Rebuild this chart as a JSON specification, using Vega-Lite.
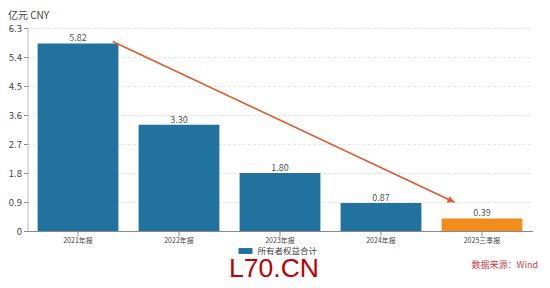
{
  "$schema": "https://vega.github.io/schema/vega-lite/v6.json",
  "autosize": {"type": "none"},
  "width": 505,
  "height": 203,
  "padding": {"left": 27.5, "top": 28, "right": 17.5, "bottom": 57},
  "background": "#ffffff",
  "config": {
    "font": "Noto Sans CJK SC",
    "view": {"stroke": null},
    "axisX": {"labelFontSize": 7, "labelColor": "#444", "domainColor": "#888", "tickColor": "#888", "tickSize": 5, "labelPadding": 0, "labelAngle": 0, "title": null, "grid": false}
  },
  "datasets": {
    "bars": [
      {"period": "2021年报", "value": 5.82, "name": "所有者权益合计"},
      {"period": "2022年报", "value": 3.30, "name": "所有者权益合计"},
      {"period": "2023年报", "value": 1.80, "name": "所有者权益合计"},
      {"period": "2024年报", "value": 0.87, "name": "所有者权益合计"},
      {"period": "2025三季报", "value": 0.39, "name": "所有者权益合计"}
    ],
    "trend": [
      {"period": "2021年报", "value": 5.88, "period_end": "2025三季报", "value_end": 0.89}
    ],
    "arrowhead": [
      {"period": "2025三季报", "value": 0.89}
    ],
    "notes": [
      {"period": "2023年报", "value": -1.43, "label": "L70.CN"},
      {"period": "2025三季报", "value": -1.055, "label": "数据来源：Wind"}
    ]
  },
  "encoding": {
    "x": {
      "field": "period", "type": "nominal", "sort": ["2021年报", "2022年报", "2023年报", "2024年报", "2025三季报"],
      "scale": {"domain": ["2021年报", "2022年报", "2023年报", "2024年报", "2025三季报"], "paddingInner": 0.2, "paddingOuter": 0.1}
    },
    "y": {
      "field": "value", "type": "quantitative",
      "scale": {"domain": [0, 6.3], "nice": false, "zero": false},
      "axis": {
        "values": [0, 0.9, 1.8, 2.7, 3.6, 4.5, 5.4, 6.3],
        "format": ".1~f", "labelOverlap": false,
        "title": "亿元  CNY", "titleAngle": 0, "titleAlign": "left", "titleBaseline": "middle",
        "titleX": -20, "titleY": -13, "titleFontSize": 10, "titleFontWeight": "normal", "titleColor": "#444",
        "labelFontSize": 9.5, "labelColor": "#444", "domainColor": "#bbb", "tickColor": "#888", "tickSize": 4, "labelPadding": 2,
        "grid": true, "gridColor": "#e6e6e6", "gridDash": [3, 2]
      }
    }
  },
  "layer": [
    {
      "data": {"name": "bars"},
      "mark": {"type": "bar"},
      "encoding": {
        "color": {
          "condition": {"test": "datum.period === '2025三季报'", "value": "#F28C1C"},
          "field": "name", "type": "nominal",
          "scale": {"domain": ["所有者权益合计"], "range": ["#21729F"]},
          "legend": {
            "title": null, "orient": "none", "legendX": 211, "legendY": 216,
            "symbolType": "M-1,-0.42H1V0.42H-1Z", "symbolSize": 196, "symbolStrokeWidth": 0,
            "labelFontSize": 8.5, "labelColor": "#444", "labelOffset": 5
          }
        }
      }
    },
    {
      "data": {"name": "bars"},
      "mark": {"type": "text", "dy": -5, "fontSize": 9, "color": "#555"},
      "encoding": {
        "text": {"field": "value", "type": "quantitative", "format": ".2f"}
      }
    },
    {
      "data": {"name": "trend"},
      "mark": {"type": "rule", "color": "#DE5A2E", "strokeWidth": 1.6},
      "encoding": {
        "x": {
          "field": "period", "type": "nominal", "bandPosition": 0.93,
          "sort": ["2021年报", "2022年报", "2023年报", "2024年报", "2025三季报"],
          "scale": {"domain": ["2021年报", "2022年报", "2023年报", "2024年报", "2025三季报"], "paddingInner": 0.2, "paddingOuter": 0.1}
        },
        "x2": {"field": "period_end", "bandPosition": 0.16},
        "y2": {"field": "value_end"}
      }
    },
    {
      "data": {"name": "arrowhead"},
      "mark": {"type": "point", "shape": "M0,0L-1,-0.5L-1,0.5Z", "filled": true, "color": "#DE5A2E", "opacity": 1, "size": 200, "angle": 25},
      "encoding": {
        "x": {
          "field": "period", "type": "nominal", "bandPosition": 0.16,
          "sort": ["2021年报", "2022年报", "2023年报", "2024年报", "2025三季报"],
          "scale": {"domain": ["2021年报", "2022年报", "2023年报", "2024年报", "2025三季报"], "paddingInner": 0.2, "paddingOuter": 0.1}
        }
      }
    },
    {
      "data": {"name": "notes"},
      "transform": [{"filter": "datum.label === 'L70.CN'"}],
      "mark": {"type": "text", "font": "Liberation Sans", "fontSize": 26.5, "color": "#C00000", "align": "center", "baseline": "alphabetic", "dx": -6},
      "encoding": {
        "text": {"field": "label"}
      }
    },
    {
      "data": {"name": "notes"},
      "transform": [{"filter": "datum.label !== 'L70.CN'"}],
      "mark": {"type": "text", "fontSize": 9, "color": "#D23A4C", "align": "right", "baseline": "middle", "dx": 56},
      "encoding": {
        "text": {"field": "label"}
      }
    }
  ]
}
